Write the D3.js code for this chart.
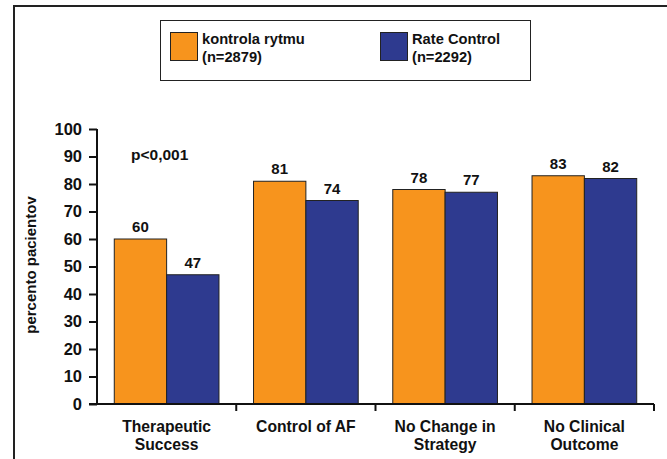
<!DOCTYPE html>
<html><head><meta charset="utf-8">
<script src="https://cdn.jsdelivr.net/npm/d3@7"></script>
<style>body{margin:0;background:#fff}svg{display:block;font-family:"Liberation Sans",Arial,sans-serif}</style>
</head><body><svg id="c" width="667" height="459"></svg>
<script>
const categories = [["Therapeutic","Success"],["Control of AF"],["No Change in","Strategy"],["No Clinical","Outcome"]];
const seriesNames = [["kontrola rytmu","(n=2879)"],["Rate Control","(n=2292)"]];
const rhythm = [60,81,78,83];
const rate = [47,74,77,82];
const yTicks = [0,10,20,30,40,50,60,70,80,90,100];
const colors = ["#F7941D","#2E3A8F"];

const svg = d3.select("#c");
// frame
svg.append("path").attr("d","M14,459 V6 H667").attr("fill","none").attr("stroke","#222").attr("stroke-width",2);

const x0 = d3.scaleBand().domain(d3.range(categories.length)).range([97,654]).paddingInner(0).paddingOuter(0);
const y = d3.scaleLinear().domain([0,100]).range([404,129]);
const x1 = d3.scaleBand().domain([0,1]).range([0,x0.bandwidth()]).paddingOuter(0.33).paddingInner(0);

const data = categories.map((c,i)=>({i, vals:[rhythm[i],rate[i]]}));
const g = svg.append("g");
const grp = g.selectAll("g.cat").data(data).join("g").attr("transform",d=>`translate(${x0(d.i)},0)`);
grp.selectAll("rect").data(d=>d.vals.map((v,k)=>({v,k}))).join("rect")
  .attr("x",d=>x1(d.k)).attr("width",x1.bandwidth())
  .attr("y",d=>y(d.v)).attr("height",d=>y(0)-y(d.v))
  .attr("fill",d=>colors[d.k]).attr("stroke","#222").attr("stroke-width",1);
grp.selectAll("text.val").data(d=>d.vals.map((v,k)=>({v,k}))).join("text")
  .attr("x",d=>x1(d.k)+x1.bandwidth()/2).attr("y",d=>y(d.v)-7)
  .attr("text-anchor","middle").attr("font-size",15).attr("font-weight","bold").attr("fill","#111").text(d=>d.v);

// y axis
const ya = svg.append("g").attr("transform","translate(97,0)").call(d3.axisLeft(y).tickValues(yTicks).tickSize(8).tickPadding(7));
ya.select(".domain").attr("stroke","#111").attr("stroke-width",2).attr("d","M0,129V404");
ya.selectAll(".tick line").attr("stroke","#111").attr("stroke-width",2);
ya.selectAll(".tick text").attr("font-size",16.5).attr("font-weight","bold").attr("fill","#111").attr("font-family","Liberation Sans, Arial, sans-serif");

// x axis
const xa = svg.append("g").attr("transform","translate(0,404)");
xa.append("line").attr("x1",89).attr("x2",654).attr("stroke","#111").attr("stroke-width",2);
const xt = d3.range(categories.length+1).map(i=> i<categories.length ? x0(i) : x0(categories.length-1)+x0.bandwidth());
xa.selectAll("line.t").data(xt.slice(1)).join("line").attr("x1",d=>d).attr("x2",d=>d).attr("y1",0).attr("y2",7).attr("stroke","#111").attr("stroke-width",2);
const cl = svg.selectAll("text.cat").data(categories).join("text")
  .attr("text-anchor","middle").attr("font-size",15.7).attr("font-weight","bold").attr("fill","#111")
  .attr("x",(d,i)=>x0(i)+x0.bandwidth()/2).attr("y",432);
cl.selectAll("tspan").data(d=>d).join("tspan").attr("x",function(){return this.parentNode.getAttribute("x");}).attr("dy",(d,i)=>i?18:0).text(d=>d);

// y label
svg.append("text").attr("transform","translate(36,265) rotate(-90)").attr("text-anchor","middle")
  .attr("font-size",15).attr("font-weight","bold").attr("fill","#111").text("percento pacientov");

// p value
svg.append("text").attr("x",131).attr("y",160).attr("font-size",15.5).attr("font-weight","bold").attr("fill","#111").text("p<0,001");

// legend
const lg = svg.append("g");
lg.append("rect").attr("x",160.5).attr("y",20.5).attr("width",370).attr("height",60).attr("fill","#fff").attr("stroke","#222").attr("stroke-width",1);
const items = lg.selectAll("g.it").data(seriesNames).join("g").attr("transform",(d,i)=>`translate(${i?380:170},32)`);
items.append("rect").attr("width",27).attr("height",28).attr("fill",(d,i)=>colors[i]).attr("stroke","#222").attr("x",0.5).attr("y",0.5);
const lt = items.append("text").attr("x",32).attr("y",12).attr("font-size",14.7).attr("font-weight","bold").attr("fill","#111");
lt.selectAll("tspan").data(d=>d).join("tspan").attr("x",32).attr("dy",(d,i)=>i?18:0).text(d=>d);
</script></body></html>
